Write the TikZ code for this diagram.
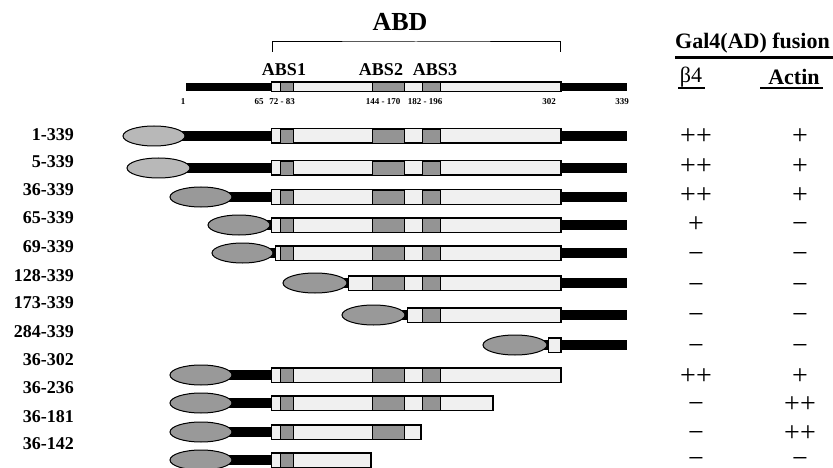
\documentclass[tikz,border=0pt]{standalone}
\usepackage{fontspec}
\setmainfont{Liberation Serif}
\usetikzlibrary{shapes.geometric,backgrounds}
\definecolor{ellLight}{gray}{0.72}
\definecolor{ellDark}{gray}{0.60}
\definecolor{boxFill}{gray}{0.94}
\definecolor{absFill}{gray}{0.58}
\tikzset{
  lab/.style={font=\fontsize{18}{18}\selectfont\bfseries, anchor=east, inner sep=0pt},
  sym/.style={font=\fontsize{28}{28}\selectfont, inner sep=0pt, text height=13pt, text depth=0pt},
  tick/.style={font=\fontsize{9}{9}\selectfont\bfseries, inner sep=0pt},
  abs/.style={font=\fontsize{18}{18}\selectfont\bfseries, inner sep=0pt},
  gfp/.style={ellipse, draw, line width=1pt, minimum height=20pt, inner sep=0pt},
  protbox/.style={rectangle, draw, line width=1pt, fill=boxFill, minimum height=14pt, inner sep=0pt, anchor=west},
  bar/.style={line width=10pt},
  absseg/.style={fill=absFill, draw, line width=0.8pt},
}
% #1 name, #2 y, #3 ellipse left, #4 ellipse right, #5 box start, #6 box end, #7 ellipse fill
\newcommand\mkrow[7]{%
  \node[gfp, fill=#7, minimum width={(#4-#3)*1pt}] (e#1) at ({(#3+#4)/2},#2) {};
  \node[protbox, minimum width={(#6-#5)*1pt}] (b#1) at (#5,#2) {};
  \begin{pgfonlayer}{background}
    \draw[bar] (e#1.center) -- (b#1.west);
  \end{pgfonlayer}
  \begin{scope}
    \clip (b#1.south west) rectangle (b#1.north east);
    \foreach \sa/\sb in {280/293, 372/404, 422/440}
      \filldraw[absseg] (\sa,#2-7) rectangle (\sb,#2+7);
  \end{scope}
  \draw[line width=1pt] (b#1.south west) rectangle (b#1.north east);
}
\newcommand\mktail[2]{%
  \coordinate (t#1) at (627,#2);
  \draw[bar] (b#1.east) -- (t#1);
}
\begin{document}
\begin{tikzpicture}[x=1pt,y=-1pt]
\useasboundingbox (0,0) rectangle (833,468);

% header
\node[font=\fontsize{26}{26}\selectfont\bfseries, inner sep=0pt] (abd) at (400,22) {ABD};
\coordinate (brL) at (272.5,52);
\coordinate (brR) at (560.5,52);
\draw[line width=1pt] (brL) |- (416,42) -| (brR);
\node[abs] (abs1) at (284,70) {ABS1};
\node[abs] (abs2) at (381,70) {ABS2};
\node[abs] (abs3) at (435,70) {ABS3};

\node[protbox, minimum width=289pt, minimum height=9pt] (bh) at (271,87) {};
\coordinate (hl) at (186,87);
\coordinate (hr) at (627,87);
\begin{pgfonlayer}{background}
  \draw[line width=8pt] (hl) -- (bh.west);
\end{pgfonlayer}
\begin{scope}
  \clip (bh.south west) rectangle (bh.north east);
  \foreach \sa/\sb in {280/293, 372/404, 422/440}
    \filldraw[absseg] (\sa,82.5) rectangle (\sb,91.5);
\end{scope}
\draw[line width=1pt] (bh.south west) rectangle (bh.north east);
\draw[line width=8pt] (bh.east) -- (hr);

\node[tick] (k1) at (183,102) {1};
\node[tick] (k65) at (259,102) {65};
\node[tick] (k72) at (282,102) {72 - 83};
\node[tick] (k144) at (383,102) {144 - 170};
\node[tick] (k182) at (425,102) {182 - 196};
\node[tick] (k302) at (549,102) {302};
\node[tick] (k339) at (622,102) {339};

% right header
\node[font=\fontsize{22}{22}\selectfont\bfseries, anchor=west, inner sep=0pt] (gal) at (675,43) {Gal4(AD) fusion};
\coordinate (u1l) at (675,58);
\coordinate (u1r) at (833,58);
\draw[line width=3pt] (u1l) -- (u1r);
\node[font=\fontsize{22}{22}\selectfont, inner sep=0pt] (b4) at (691,77) {β4};
\coordinate (u2l) at (678,88);
\coordinate (u2r) at (705,88);
\draw[line width=1.8pt] (u2l) -- (u2r);
\node[font=\fontsize{22}{22}\selectfont\bfseries, inner sep=0pt] (act) at (794,77) {Actin};
\coordinate (u3l) at (760,88);
\coordinate (u3r) at (823,88);
\draw[line width=1.8pt] (u3l) -- (u3r);

% row labels
\foreach \t/\yy [count=\i] in {1-339/135, 5-339/162, 36-339/190, 65-339/218, 69-339/247, 128-339/276, 173-339/303, 284-339/332, 36-302/360, 36-236/388, 36-181/417, 36-142/444}
  \node[lab] (l\i) at (74,\yy) {\t};

% constructs
\mkrow{0}{136}{123}{185}{271}{560}{ellLight}\mktail{0}{136}
\mkrow{1}{168}{127}{190}{271}{560}{ellLight}\mktail{1}{168}
\mkrow{2}{197}{170}{232}{271}{560}{ellDark}\mktail{2}{197}
\mkrow{3}{225}{208}{270}{271}{560}{ellDark}\mktail{3}{225}
\mkrow{4}{253}{212}{273}{275}{560}{ellDark}\mktail{4}{253}
\mkrow{5}{283}{283}{347}{348}{560}{ellDark}\mktail{5}{283}
\mkrow{6}{315}{342}{405}{407}{560}{ellDark}\mktail{6}{315}
\mkrow{7}{345}{483}{547}{548}{560}{ellDark}\mktail{7}{345}
\mkrow{8}{375}{170}{232}{271}{560}{ellDark}
\mkrow{9}{403}{170}{232}{271}{492}{ellDark}
\mkrow{10}{432}{170}{232}{271}{420}{ellDark}
\mkrow{11}{460}{170}{232}{271}{370}{ellDark}

% results
\foreach \pa/\pb/\yy [count=\i] in {++/+/138, ++/+/168, ++/+/197, +/−/226, −/−/256, −/−/287, −/−/317, −/−/348, ++/+/378, −/++/406, −/++/435, −/−/461}{
  \node[sym] (ra\i) at (696,\yy) {\pa};
  \node[sym] (rb\i) at (800,\yy) {\pb};
}
\end{tikzpicture}
\end{document}
